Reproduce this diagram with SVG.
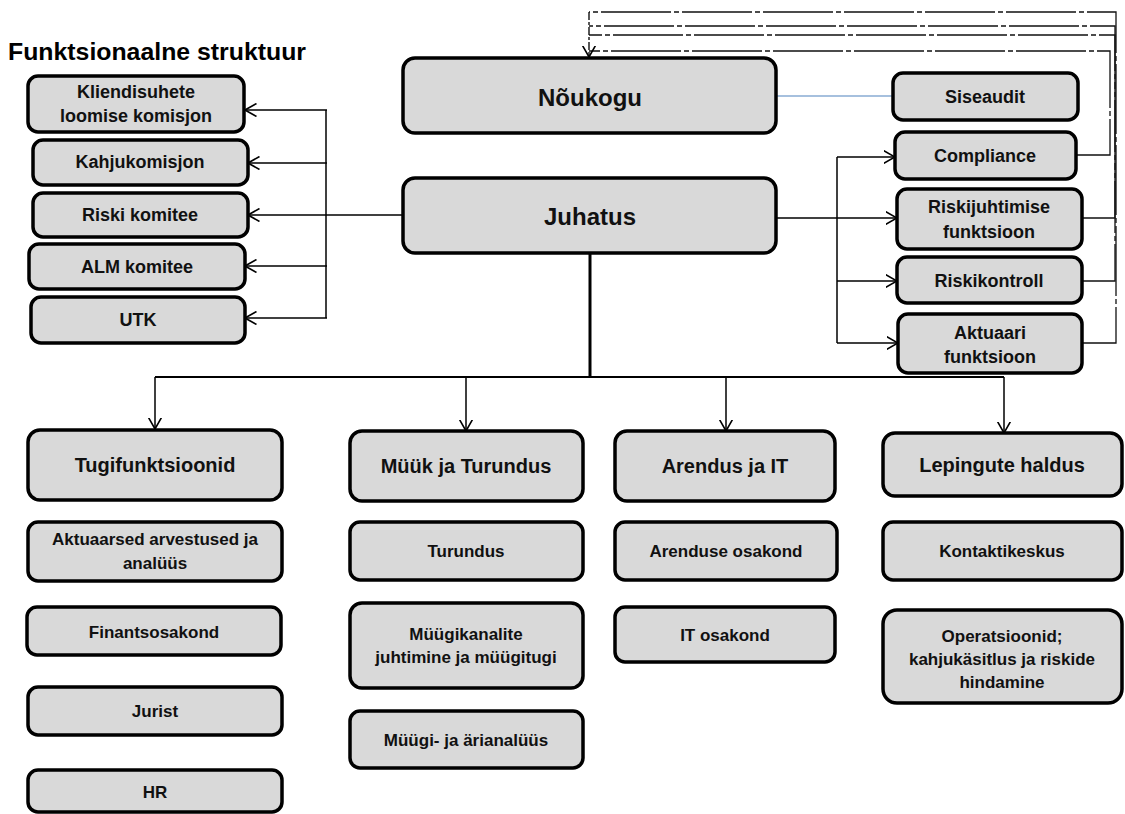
<svg xmlns="http://www.w3.org/2000/svg" width="1125" height="814" viewBox="0 0 1125 814">
<defs>
<marker id="arr" viewBox="0 0 12 14" refX="11.5" refY="7" markerWidth="12" markerHeight="14" markerUnits="userSpaceOnUse" orient="auto">
<path d="M0,0.5 L11.5,7 L0,13.5" fill="none" stroke="#000" stroke-width="1.6"/>
</marker>
<style>
.box{fill:#d9d9d9;stroke:#000;stroke-width:3.5}
.t{font-family:"Liberation Sans",Arial,sans-serif;font-weight:bold;fill:#111;text-anchor:middle}
.s17{font-size:17px}
.s18{font-size:18px}
.s20{font-size:20px}
.s24{font-size:24px}
.c{fill:none;stroke:#000;stroke-width:1.5}
.fb{fill:none;stroke:#111;stroke-width:1.3;stroke-dasharray:70 3 5 3}
</style>
</defs>
<text x="8" y="60" textLength="298" lengthAdjust="spacingAndGlyphs" style="font-family:'Liberation Sans',Arial,sans-serif;font-weight:bold;font-size:23px;fill:#000">Funktsionaalne struktuur</text>

<g id="connectors">
<path class="c" d="M403,215 L248,215" marker-end="url(#arr)"/>
<path class="c" d="M326,110 L326,318"/>
<path class="c" d="M327,110 L245,110" marker-end="url(#arr)"/>
<path class="c" d="M327,163 L248,163" marker-end="url(#arr)"/>
<path class="c" d="M327,266 L245,266" marker-end="url(#arr)"/>
<path class="c" d="M327,318 L245,318" marker-end="url(#arr)"/>
<path class="c" d="M776,218 L897,218" marker-end="url(#arr)"/>
<path class="c" d="M837,157 L837,343"/>
<path class="c" d="M837,157 L895,157" marker-end="url(#arr)"/>
<path class="c" d="M837,281 L897,281" marker-end="url(#arr)"/>
<path class="c" d="M837,343 L898,343" marker-end="url(#arr)"/>
<path d="M776,96 L893,96" fill="none" stroke="#4f81bd" stroke-width="1.2"/>
<path class="fb" d="M1076,155 L1110,155 L1110,51 L589,51"/>
<path class="fb" d="M1082,218 L1115,218 L1115,35 L589,35"/>
<path class="fb" d="M1082,281 L1115,281 L1115,26 L589,26"/>
<path class="fb" d="M1082,343 L1116,343 L1116,12 L589,12"/>
<path d="M589,12 L589,57" fill="none" stroke="#111" stroke-width="1.4" stroke-dasharray="8 2 3 2" marker-end="url(#arr)"/>
<path d="M590,253 L590,378" fill="none" stroke="#000" stroke-width="3"/>
<path d="M155,377 L1004,377" fill="none" stroke="#000" stroke-width="2"/>
<path class="c" d="M155,377 L155,429" marker-end="url(#arr)"/>
<path class="c" d="M466,377 L466,431" marker-end="url(#arr)"/>
<path class="c" d="M726,377 L726,431" marker-end="url(#arr)"/>
<path class="c" d="M1004,377 L1004,433" marker-end="url(#arr)"/>
</g>

<g id="noukogu"><rect class="box" x="403" y="58" width="373" height="75" rx="12"/><text class="t s24" x="590" y="106">Nõukogu</text></g>
<g id="juhatus"><rect class="box" x="403" y="178" width="373" height="75" rx="12"/><text class="t s24" x="590" y="225">Juhatus</text></g>

<g id="kliendisuhete"><rect class="box" x="28" y="76" width="216" height="56" rx="10"/><text class="t s18" x="136" y="98">Kliendisuhete</text><text class="t s18" x="136" y="122">loomise komisjon</text></g>
<g id="kahjukomisjon"><rect class="box" x="33" y="140" width="215" height="45" rx="10"/><text class="t s18" x="140" y="168">Kahjukomisjon</text></g>
<g id="riski-komitee"><rect class="box" x="33" y="193" width="215" height="44" rx="10"/><text class="t s18" x="140" y="221">Riski komitee</text></g>
<g id="alm-komitee"><rect class="box" x="29" y="244" width="216" height="45" rx="10"/><text class="t s18" x="137" y="273">ALM komitee</text></g>
<g id="utk"><rect class="box" x="31" y="297" width="214" height="46" rx="10"/><text class="t s18" x="138" y="326">UTK</text></g>

<g id="siseaudit"><rect class="box" x="893" y="73" width="185" height="47" rx="10"/><text class="t s18" x="985" y="103">Siseaudit</text></g>
<g id="compliance"><rect class="box" x="895" y="132" width="181" height="47" rx="10"/><text class="t s18" x="985" y="162">Compliance</text></g>
<g id="riskijuhtimise"><rect class="box" x="897" y="189" width="185" height="60" rx="10"/><text class="t s18" x="989" y="213">Riskijuhtimise</text><text class="t s18" x="989" y="238">funktsioon</text></g>
<g id="riskikontroll"><rect class="box" x="897" y="257" width="185" height="46" rx="10"/><text class="t s18" x="989" y="287">Riskikontroll</text></g>
<g id="aktuaari"><rect class="box" x="898" y="314" width="184" height="59" rx="10"/><text class="t s18" x="990" y="339">Aktuaari</text><text class="t s18" x="990" y="363">funktsioon</text></g>

<g id="tugifunktsioonid"><rect class="box" x="28" y="430" width="254" height="70" rx="12"/><text class="t s20" x="155" y="472">Tugifunktsioonid</text></g>
<g id="aktuaarsed"><rect class="box" x="28" y="522" width="254" height="59" rx="10"/><text class="t s17" x="155" y="545">Aktuaarsed arvestused ja</text><text class="t s17" x="155" y="569">analüüs</text></g>
<g id="finantsosakond"><rect class="box" x="27" y="607" width="254" height="48" rx="10"/><text class="t s17" x="154" y="638">Finantsosakond</text></g>
<g id="jurist"><rect class="box" x="28" y="687" width="254" height="48" rx="10"/><text class="t s17" x="155" y="717">Jurist</text></g>
<g id="hr"><rect class="box" x="28" y="770" width="254" height="42" rx="10"/><text class="t s17" x="155" y="798">HR</text></g>

<g id="muuk-ja-turundus"><rect class="box" x="350" y="431" width="233" height="70" rx="12"/><text class="t s20" x="466" y="473">Müük ja Turundus</text></g>
<g id="turundus"><rect class="box" x="350" y="522" width="233" height="58" rx="10"/><text class="t s17" x="466" y="557">Turundus</text></g>
<g id="muugikanalite"><rect class="box" x="350" y="603" width="233" height="85" rx="12"/><text class="t s17" x="466" y="640">Müügikanalite</text><text class="t s17" x="466" y="663">juhtimine ja müügitugi</text></g>
<g id="muugi-analuus"><rect class="box" x="350" y="711" width="233" height="57" rx="10"/><text class="t s17" x="466" y="746">Müügi- ja ärianalüüs</text></g>

<g id="arendus-ja-it"><rect class="box" x="615" y="431" width="220" height="70" rx="12"/><text class="t s20" x="725" y="473">Arendus ja IT</text></g>
<g id="arenduse-osakond"><rect class="box" x="615" y="522" width="222" height="58" rx="10"/><text class="t s17" x="726" y="557">Arenduse osakond</text></g>
<g id="it-osakond"><rect class="box" x="615" y="607" width="220" height="55" rx="10"/><text class="t s17" x="725" y="641">IT osakond</text></g>

<g id="lepingute-haldus"><rect class="box" x="883" y="433" width="239" height="63" rx="12"/><text class="t s20" x="1002" y="472">Lepingute haldus</text></g>
<g id="kontaktikeskus"><rect class="box" x="883" y="522" width="239" height="58" rx="10"/><text class="t s17" x="1002" y="557">Kontaktikeskus</text></g>
<g id="operatsioonid"><rect class="box" x="883" y="610" width="239" height="93" rx="14"/><text class="t s17" x="1002" y="642">Operatsioonid;</text><text class="t s17" x="1002" y="665">kahjukäsitlus ja riskide</text><text class="t s17" x="1002" y="688">hindamine</text></g>
</svg>
